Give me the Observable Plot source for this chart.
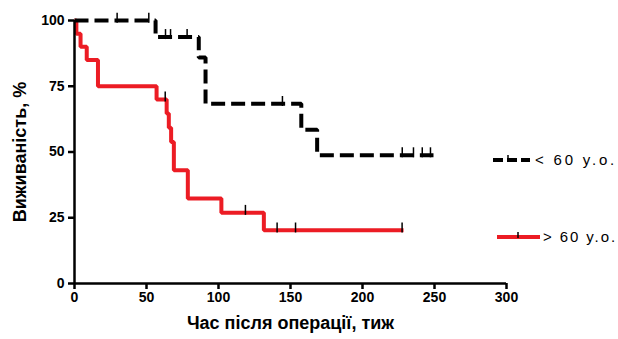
<!DOCTYPE html>
<html><head><meta charset="utf-8">
<script src="https://cdn.jsdelivr.net/npm/d3@7"></script>
<script src="https://cdn.jsdelivr.net/npm/@observablehq/plot@0.6"></script>
<style>
body{margin:0;background:#fff;}
#wrap{position:relative;width:618px;height:339px;font-family:"Liberation Sans",Arial,sans-serif;overflow:hidden;}
.leg{position:absolute;font-size:15px;color:#000;line-height:1;white-space:nowrap;}
.sw{position:absolute;}
</style></head><body><div id="wrap"></div>
<script>
// Group "< 60 y.o." (black dashed)
const youngTimes=[0,56.3,86.3,91,157.5,168.5,249.3];
const youngSurv=[100,93.75,85.9,68.3,58.5,48.8,48.8];
const youngCensor=[29.6,51.6,63.2,66.7,78.2,144.4,227.6,235.4,241.5,247.2];
// Group "> 60 y.o." (red)
const oldTimes=[0,1.3,4.2,8.5,16.3,57,64,65.5,67.1,69,78.7,102,131.5,228.5];
const oldSurv=[100,95,90,85,75,70,64.6,59.2,53.8,43.1,32.3,26.9,20.2,20.2];
const oldCensor=[63,118.7,140.7,153.5,227.5];
const xTicks=[0,50,100,150,200,250,300];
const yTicks=[0,25,50,75,100];
const seriesLabels=["< 60 y.o.","> 60 y.o."];
const xTitle="Час після операції, тиж";
const yTitle="Виживаність, %";

const RED="#ec1c24";
const toPts=(ts,ss)=>ts.map((t,i)=>({t,s:ss[i]}));
const survAt=(ts,ss,t)=>{let v=ss[0];for(let i=0;i<ts.length;i++){if(ts[i]<=t)v=ss[i];}return v;};
const young=toPts(youngTimes,youngSurv);
const old=toPts(oldTimes,oldSurv);
const yc=youngCensor.map(t=>({t,s:survAt(youngTimes,youngSurv,t)}));
const oc=oldCensor.map(t=>({t,s:survAt(oldTimes,oldSurv,t)}));

const chart=Plot.plot({
  width:618,height:339,
  marginLeft:74,marginRight:112,marginTop:20,marginBottom:56,
  x:{domain:[0,300]},
  y:{domain:[0,100]},
  style:{fontFamily:"Liberation Sans, Arial, sans-serif",fontWeight:"bold",fontSize:"14px",color:"#000",background:"#fff"},
  marks:[
    Plot.line(old,{x:"t",y:"s",curve:"step-after",stroke:RED,strokeWidth:4,strokeLinejoin:"miter",strokeLinecap:"butt"}),
    Plot.line(young,{x:"t",y:"s",curve:"step-after",stroke:"#000",strokeWidth:4,strokeDasharray:"14,6",strokeLinejoin:"miter",strokeLinecap:"butt"}),
    Plot.ruleX(oc,{x:"t",y1:d=>d.s-1,y2:d=>d.s+2.8,stroke:"#000",strokeWidth:1.5}),
    Plot.ruleX(yc,{x:"t",y1:d=>d.s-1,y2:d=>d.s+2.8,stroke:"#000",strokeWidth:1.5}),
    Plot.ruleX([0],{stroke:"#000",strokeWidth:2.5}),
    Plot.ruleY([0],{stroke:"#000",strokeWidth:2.5}),
    Plot.axisX(xTicks,{tickSize:6,tickPadding:3,strokeWidth:2.5,fontSize:14,fontWeight:"bold",label:null}),
    Plot.axisY(yTicks,{tickSize:6,tickPadding:4,strokeWidth:2.5,fontSize:14,fontWeight:"bold",label:null}),
    Plot.text([xTitle],{frameAnchor:"bottom",dy:45,fontSize:18,fontWeight:"bold",style:"letter-spacing:2.4px"}),
    Plot.text([yTitle],{frameAnchor:"left",textAnchor:"middle",rotate:-90,dx:-54,fontSize:18,fontWeight:"bold",style:"letter-spacing:2px"})
  ]
});
const wrap=document.getElementById("wrap");
wrap.appendChild(chart);

// legend
const leg=[
  {label:seriesLabels[0],top:160,x0:493,x1:530,tx:535,stroke:"#000",dash:"10,4",tick:508,ls:2.8},
  {label:seriesLabels[1],top:237,x0:497,x1:540,tx:543,stroke:RED,dash:null,tick:518,ls:1.9}
];
leg.forEach(l=>{
  const svg=d3.create("svg").attr("class","sw").attr("width",l.x1-l.x0+4).attr("height",14)
    .style("left",(l.x0)+"px").style("top",(l.top-7)+"px");
  const ln=svg.append("line").attr("x1",0).attr("x2",l.x1-l.x0).attr("y1",7).attr("y2",7)
    .attr("stroke",l.stroke).attr("stroke-width",4);
  if(l.dash)ln.attr("stroke-dasharray",l.dash);
  svg.append("line").attr("x1",l.tick-l.x0).attr("x2",l.tick-l.x0).attr("y1",2).attr("y2",8)
    .attr("stroke","#000").attr("stroke-width",1.5);
  wrap.appendChild(svg.node());
  const d=document.createElement("div");
  d.className="leg";d.textContent=l.label;d.style.letterSpacing=l.ls+"px";
  d.style.left=l.tx+"px";d.style.top=(l.top-8)+"px";
  wrap.appendChild(d);
});
</script></body></html>
